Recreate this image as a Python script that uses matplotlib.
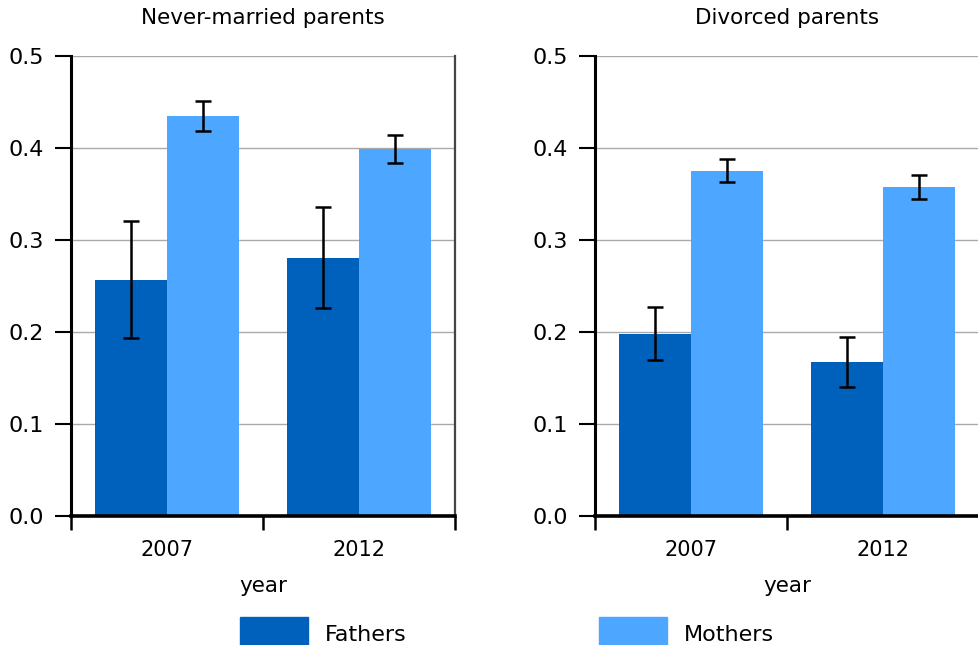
import matplotlib
matplotlib.use('Agg')
import matplotlib.pyplot as plt
import numpy as np
from matplotlib.patches import Patch

plt.rcParams['font.family'] = ['DejaVu Sans']

years = ['2007', '2012']
panels = ['Never-married parents', 'Divorced parents']

# means and error bar ends
fathers_mean = [[0.256, 0.280], [0.198, 0.167]]
fathers_low = [[0.193, 0.226], [0.170, 0.140]]
fathers_high = [[0.321, 0.336], [0.227, 0.195]]
mothers_mean = [[0.435, 0.399], [0.375, 0.358]]
mothers_low = [[0.418, 0.384], [0.363, 0.345]]
mothers_high = [[0.451, 0.414], [0.388, 0.371]]

c_fath = '#0061BD'
c_moth = '#4DA6FF'

fig = plt.figure(figsize=(9.79, 6.45), dpi=100)
boxes = [[0.0725, 0.2, 0.3923, 0.7132], [0.6078, 0.2, 0.3923, 0.7132]]

x = np.arange(len(years))
w = 0.375
for i in range(2):
    ax = fig.add_axes(boxes[i])
    fm = np.array(fathers_mean[i]); mm = np.array(mothers_mean[i])
    ax.bar(x - w/2, fm, w, color=c_fath, zorder=2)
    ax.bar(x + w/2, mm, w, color=c_moth, zorder=2)
    ax.errorbar(x - w/2, fm, yerr=[fm - np.array(fathers_low[i]), np.array(fathers_high[i]) - fm],
                fmt='none', ecolor='black', elinewidth=1.8, capsize=6, capthick=1.8, zorder=3)
    ax.errorbar(x + w/2, mm, yerr=[mm - np.array(mothers_low[i]), np.array(mothers_high[i]) - mm],
                fmt='none', ecolor='black', elinewidth=1.8, capsize=6, capthick=1.8, zorder=3)
    ax.set_xlim(-0.5, 1.5)
    ax.set_ylim(0, 0.5)
    ax.set_yticks([0, 0.1, 0.2, 0.3, 0.4, 0.5])
    ax.set_yticklabels(['0.0', '0.1', '0.2', '0.3', '0.4', '0.5'])
    ax.yaxis.grid(True, color='#aaaaaa', linewidth=1, zorder=0)
    ax.set_axisbelow(True)
    # tick marks between groups, labels under groups
    ax.set_xticks([-0.5, 0.5, 1.5])
    ax.set_xticklabels([])
    ax.set_xticks(x, minor=True)
    ax.set_xticklabels(years, minor=True)
    ax.tick_params(axis='x', which='major', length=10, width=1.8, direction='out')
    ax.tick_params(axis='x', which='minor', length=0, pad=17, labelsize=15)
    ax.tick_params(axis='y', length=11.5, width=1.5, labelsize=16, pad=8)
    ax.spines['left'].set_linewidth(2.2)
    ax.spines['bottom'].set_linewidth(2.6)
    ax.spines['right'].set_linewidth(1.6)
    ax.spines['right'].set_color('#444444')
    ax.spines['top'].set_visible(False)
    ax.set_xlabel('year', fontsize=15.5, labelpad=12)
    ax.set_title(panels[i], fontsize=15.5, pad=23)

handles = [Patch(color=c_fath, label='Fathers'), Patch(color=c_moth, label='Mothers')]
fig.legend(handles=handles, ncol=2, loc='center', bbox_to_anchor=(0.518, 0.018),
           frameon=False, fontsize=16, handlelength=3.06, handleheight=1.9,
           handletextpad=0.77, columnspacing=8.65)

fig.savefig('out.png', dpi=100)
